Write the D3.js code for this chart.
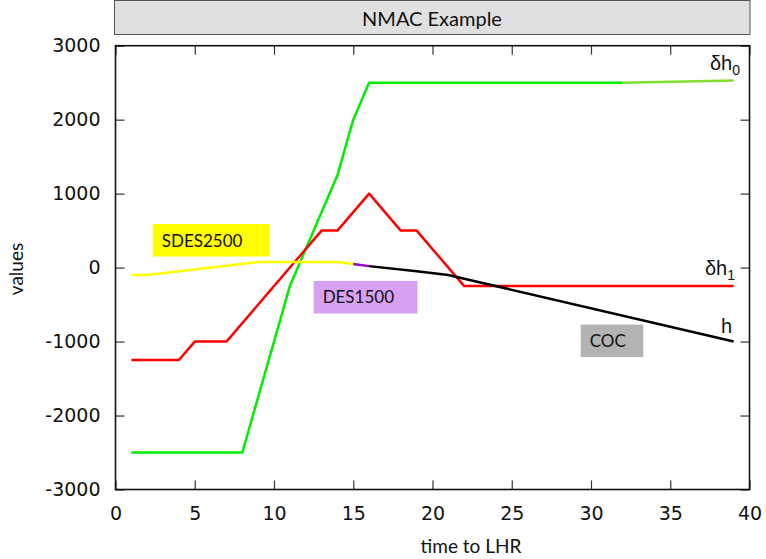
<!DOCTYPE html>
<html>
<head>
<meta charset="utf-8">
<script src="https://cdn.jsdelivr.net/npm/d3@7"></script>
<style>
  body { margin: 0; background: #fff; }
  svg { display: block; }
</style>
</head>
<body>
<svg id="chart" width="766" height="559"></svg>
<script>
// ---- data ----
const chartTitle = "NMAC Example";
const xLabel = "time to LHR";
const yLabel = "values";
const xTicks = [0, 5, 10, 15, 20, 25, 30, 35, 40];
const yTicks = [-3000, -2000, -1000, 0, 1000, 2000, 3000];

// δh0 (green)
const dh0Time   = [1, 8, 11, 14, 15, 16, 32];
const dh0Value  = [-2500, -2500, -250, 1250, 2000, 2500, 2500];
// δh0 tail (light green)
const dh0bTime  = [32, 39];
const dh0bValue = [2500, 2530];
// δh1 (red)
const dh1Time   = [1, 4, 5, 7, 13, 14, 16, 18, 19, 22, 39];
const dh1Value  = [-1250, -1250, -1000, -1000, 500, 500, 1000, 500, 500, -250, -250];
// h segments coloured by advisory
const hSdesTime  = [1, 2, 9, 14, 15];
const hSdesValue = [-100, -100, 75, 75, 50];
const hDesTime   = [15, 16];
const hDesValue  = [50, 20];
const hCocTime   = [16, 19, 21, 22, 39];
const hCocValue  = [20, -50, -100, -150, -1000];

// advisory boxes: label, anchor time, anchor value (top-left)
const boxLabels = ["SDES2500", "DES1500", "COC"];
const boxTime   = [2.35, 12.5, 29.35];
const boxValue  = [590, -180, -770];
const boxTimeW  = [7.35, 6.55, 3.95];
const boxValueH = [440, 440, 440];

// ---- layout ----
const svg = d3.select("#chart");
const L = 115.5, R = 749.5, T = 45.7, B = 489.5;
const x = d3.scaleLinear().domain([0, 40]).range([L, R]);
const y = d3.scaleLinear().domain([-3000, 3000]).range([B, T]);

const sans = "Lato, 'Open Sans', sans-serif";
const dv = "'DejaVu Sans', sans-serif";

// title box
svg.append("rect").attr("x", 114.5).attr("y", 0.5).attr("width", 635.5).attr("height", 34)
  .attr("fill", "#e0e0e0").attr("stroke", "#555").attr("stroke-width", 1);
svg.append("text").attr("x", 432).attr("y", 25.5).attr("text-anchor", "middle")
  .attr("font-family", sans).attr("font-size", 20).attr("fill", "#111").text(chartTitle);

// boxes
const boxColors = ["#ffff00", "#d8a0f0", "#b3b3b3"];
boxLabels.forEach((lab, i) => {
  const x0 = x(boxTime[i]), y0 = y(boxValue[i]);
  const w = x(boxTime[i] + boxTimeW[i]) - x0;
  const h = y(boxValue[i] - boxValueH[i]) - y0;
  svg.append("rect").attr("x", x0).attr("y", y0).attr("width", w).attr("height", h)
    .attr("fill", boxColors[i]);
  svg.append("text").attr("x", x0 + 9).attr("y", y0 + h - 10)
    .attr("font-family", sans).attr("font-size", 17).attr("fill", "#111").text(lab);
});

// lines
const line = d3.line().x(d => x(d[0])).y(d => y(d[1]));
function draw(ts, vs, color) {
  svg.append("path").datum(ts.map((t, i) => [t, vs[i]]))
    .attr("d", line).attr("fill", "none").attr("stroke", color)
    .attr("stroke-width", 2.5).attr("stroke-linejoin", "round");
}
draw(dh0Time, dh0Value, "#00ee00");
draw(dh0bTime, dh0bValue, "#80e030");
draw(dh1Time, dh1Value, "#ff0000");
draw(hSdesTime, hSdesValue, "#ffff00");
draw(hDesTime, hDesValue, "#9400d3");
draw(hCocTime, hCocValue, "#000000");

// axes (ticks inward, mirrored)
const tl = 9;
const fmt = d => String(d);
const gB = svg.append("g").attr("transform", `translate(0,${B})`)
  .call(d3.axisBottom(x).tickValues(xTicks).tickFormat(fmt).tickSizeInner(-tl).tickSizeOuter(0).tickPadding(tl + 8));
const gT = svg.append("g").attr("transform", `translate(0,${T})`)
  .call(d3.axisTop(x).tickValues(xTicks).tickSizeInner(-tl).tickSizeOuter(0).tickFormat(""));
const gL = svg.append("g").attr("transform", `translate(${L},0)`)
  .call(d3.axisLeft(y).tickValues(yTicks).tickFormat(fmt).tickSizeInner(-tl).tickSizeOuter(0).tickPadding(tl + 6));
const gR = svg.append("g").attr("transform", `translate(${R},0)`)
  .call(d3.axisRight(y).tickValues(yTicks).tickSizeInner(-tl).tickSizeOuter(0).tickFormat(""));
[gB, gT, gL, gR].forEach(g => {
  g.select(".domain").remove();
  g.selectAll(".tick line").attr("stroke", "#333").attr("stroke-width", 1.2);
  g.selectAll("text").attr("font-family", dv).attr("font-size", 19).attr("fill", "#111");
});
gB.selectAll("text").attr("dy", "0.71em");

// frame
svg.append("rect").attr("x", L).attr("y", T).attr("width", R - L).attr("height", B - T)
  .attr("fill", "none").attr("stroke", "#111").attr("stroke-width", 1.6);

// axis labels
svg.append("text").attr("x", 471).attr("y", 552.5).attr("text-anchor", "middle")
  .attr("font-family", sans).attr("font-size", 19).attr("fill", "#111").text(xLabel);
svg.append("text").attr("transform", "translate(23,269) rotate(-90)").attr("text-anchor", "middle")
  .attr("font-family", sans).attr("font-size", 19).attr("fill", "#111").text(yLabel);

// series labels
const lab = "'Liberation Sans', Arial, sans-serif";
function seriesLabel(xx, yy, main, sub) {
  const t = svg.append("text").attr("x", xx).attr("y", yy).attr("text-anchor", "end")
    .attr("font-family", lab).attr("font-size", 20).attr("fill", "#111");
  t.append("tspan").text(main);
  if (sub) t.append("tspan").attr("dy", 5).attr("font-size", 14).text(sub);
}
seriesLabel(740, 69.5, "δh", "0");
seriesLabel(735, 275, "δh", "1");
seriesLabel(732, 333, "h", null);
</script>
</body>
</html>
